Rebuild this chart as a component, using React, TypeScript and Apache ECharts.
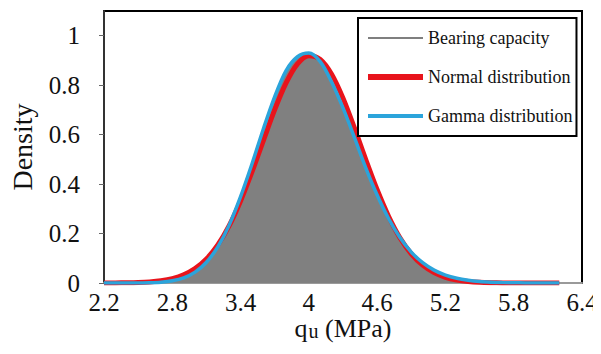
import React, { useEffect, useRef } from "react";
import * as echarts from "echarts";

const xValues = [
  2.2, 2.3, 2.4, 2.5, 2.6, 2.7, 2.8, 2.9, 3.0, 3.1, 3.2, 3.3, 3.4, 3.5, 3.6, 3.7, 3.8, 3.9, 4.0, 4.1,
  4.2, 4.3, 4.4, 4.5, 4.6, 4.7, 4.8, 4.9, 5.0, 5.1, 5.2, 5.3, 5.4, 5.5, 5.6, 5.7, 5.8, 5.9, 6.0, 6.1, 6.2,
];

const bearingCapacity = [
  0.0, 0.0, 0.0, 0.001, 0.001, 0.003, 0.009, 0.02, 0.043, 0.083, 0.143, 0.228, 0.34, 0.47, 0.612, 0.745,
  0.852, 0.915, 0.932, 0.896, 0.818, 0.712, 0.592, 0.468, 0.357, 0.262, 0.184, 0.125, 0.082, 0.052, 0.031,
  0.018, 0.01, 0.005, 0.003, 0.001, 0.001, 0.0, 0.0, 0.0, 0.0,
];

const normalDist = [
  0.0001, 0.0004, 0.0009, 0.002, 0.0044, 0.009, 0.0177, 0.033, 0.058, 0.097, 0.154, 0.232, 0.332, 0.449,
  0.576, 0.701, 0.809, 0.886, 0.919, 0.904, 0.844, 0.747, 0.627, 0.499, 0.377, 0.27, 0.183, 0.118, 0.072,
  0.042, 0.023, 0.012, 0.006, 0.0027, 0.0012, 0.0005, 0.0002, 0.0001, 0.0, 0.0, 0.0,
];

const gammaDist = [
  0.0, 0.0, 0.0001, 0.0004, 0.0012, 0.0034, 0.009, 0.021, 0.044, 0.084, 0.146, 0.234, 0.349, 0.481, 0.623,
  0.754, 0.859, 0.915, 0.93, 0.895, 0.813, 0.708, 0.589, 0.466, 0.356, 0.261, 0.184, 0.125, 0.082, 0.052,
  0.032, 0.019, 0.011, 0.006, 0.0033, 0.0017, 0.0008, 0.0004, 0.0002, 0.0001, 0.0,
];

const xTickLabels = ["2.2", "2.8", "3.4", "4", "4.6", "5.2", "5.8", "6.4"];
const X_ORIGIN = 2.2;

const FONT = "Liberation Serif";

const toPairs = (vals: number[]) => xValues.map((x, i) => [x - X_ORIGIN, vals[i]]);

export default function App() {
  const ref = useRef<HTMLDivElement>(null);
  useEffect(() => {
    if (!ref.current) return;
    const chart = echarts.init(ref.current, undefined, { renderer: "svg" });
    chart.setOption({
      animation: false,
      backgroundColor: "#fff",
      grid: {
        show: true,
        left: 102,
        right: 19,
        top: 11,
        bottom: 71,
        borderColor: "#000",
        borderWidth: 2,
        containLabel: false,
      },
      xAxis: {
        type: "value",
        min: 0,
        max: 4.2,
        interval: 0.6,
        name: "{a|q}{b|u}{a| (MPa)}",
        nameLocation: "middle",
        nameGap: 32,
        nameMoveOverlap: false,
        nameTextStyle: {
          rich: {
            a: { fontSize: 26, fontFamily: FONT, color: "#111", lineHeight: 26, verticalAlign: "middle" },
            b: { fontSize: 20, fontFamily: FONT, color: "#111", lineHeight: 26, verticalAlign: "bottom", padding: [0, 0, 0, 1] },
          },
        },
        axisLine: { show: true, lineStyle: { color: "#9a9a9a", width: 2 } },
        axisTick: { show: false },
        splitLine: { show: false },
        axisLabel: {
          margin: 9,
          fontSize: 25,
          lineHeight: 20,
          fontFamily: FONT,
          color: "#111",
          formatter: (v: number) => {
            const idx = Math.round(v / 0.6);
            return xTickLabels[idx] ?? "";
          },
        },
      },
      yAxis: {
        type: "value",
        min: 0,
        max: 1.1,
        interval: 0.2,
        name: "Density",
        nameLocation: "middle",
        nameGap: 68,
        nameRotate: 90,
        nameMoveOverlap: false,
        nameTextStyle: { fontSize: 28, fontFamily: FONT, color: "#111" },
        axisLine: { show: true, lineStyle: { color: "#333", width: 2 } },
        axisTick: { show: true, length: 5, lineStyle: { color: "#666", width: 1 } },
        splitLine: { show: false },
        axisLabel: {
          showMaxLabel: false,
          margin: 24,
          fontSize: 25,
          fontFamily: FONT,
          color: "#111",
          formatter: (v: number) => String(Math.round(v * 10) / 10),
        },
      },
      legend: {
        orient: "vertical",
        left: 358,
        top: 18,
        padding: [11, 4, 11, 7],
        itemGap: 21,
        itemWidth: 55,
        itemHeight: 14,
        backgroundColor: "#fff",
        borderColor: "#000",
        borderWidth: 2,
        textStyle: { fontSize: 18, fontFamily: FONT, color: "#111" },
        data: [
          { name: "Bearing capacity", itemStyle: { opacity: 0 }, lineStyle: { width: 2 } },
          { name: "Normal distribution", itemStyle: { opacity: 0 }, lineStyle: { width: 6 } },
          { name: "Gamma distribution", itemStyle: { opacity: 0 }, lineStyle: { width: 4 } },
        ],
      },
      series: [
        {
          name: "Bearing capacity",
          type: "line",
          data: toPairs(bearingCapacity),
          smooth: 0.3,
          symbol: "none",
          showSymbol: false,
          lineStyle: { color: "#7f7f7f", width: 1 },
          itemStyle: { color: "#808080" },
          areaStyle: { color: "#808080", opacity: 1 },
          z: 1,
        },
        {
          name: "Normal distribution",
          type: "line",
          data: toPairs(normalDist),
          smooth: 0.3,
          symbol: "none",
          showSymbol: false,
          lineStyle: { color: "#e8141c", width: 5 },
          itemStyle: { color: "#e8141c" },
          z: 2,
        },
        {
          name: "Gamma distribution",
          type: "line",
          data: toPairs(gammaDist),
          smooth: 0.3,
          symbol: "none",
          showSymbol: false,
          lineStyle: { color: "#2ba4db", width: 3.5 },
          itemStyle: { color: "#2ba4db" },
          z: 3,
        },
      ],
    });
    return () => chart.dispose();
  }, []);
  return <div ref={ref} style={{ width: 601, height: 354, margin: -8 }} />;
}
